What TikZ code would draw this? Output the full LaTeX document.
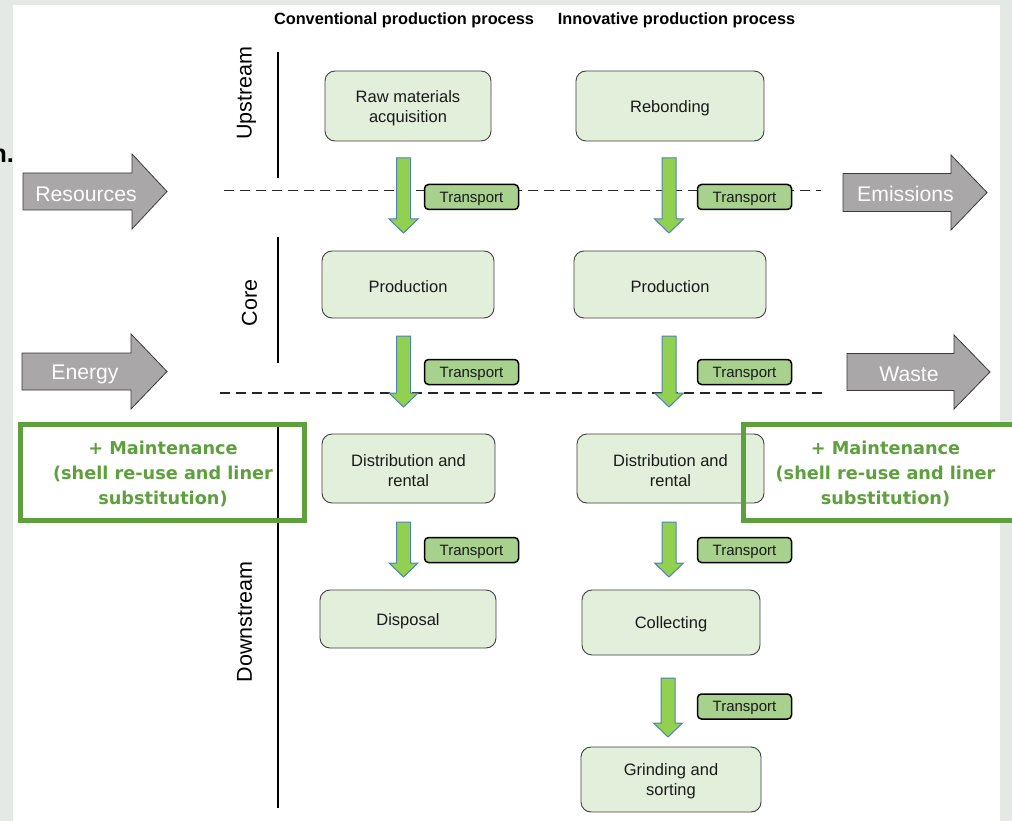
\documentclass[tikz,border=0pt]{standalone}
\usepackage{fontspec}
\setmainfont{Liberation Sans}
\newfontfamily\mfont{DejaVu Sans}
\definecolor{bggray}{HTML}{E4E9E6}
\definecolor{boxfill}{HTML}{E2EFDA}
\definecolor{boxdraw}{HTML}{404040}
\definecolor{tfill}{HTML}{A9D18E}
\definecolor{gafill}{HTML}{92D050}
\definecolor{gadraw}{HTML}{4F81BD}
\definecolor{grfill}{HTML}{A9A7A7}
\definecolor{grdraw}{HTML}{3A3A3A}
\definecolor{mgreen}{RGB}{94,160,62}
\definecolor{txt}{HTML}{1A1A1A}
\tikzset{
  stepbox/.style={draw=boxdraw, line width=0.9pt, fill=boxfill, rounded corners=10pt,
    inner sep=0pt},
  steptext/.style={align=center, text=txt, inner sep=0pt, font=\fontsize{16.5}{20}\selectfont},
  tbox/.style={draw=black, line width=1.5pt, fill=tfill, rounded corners=4pt,
    minimum width=94pt, minimum height=25pt, inner sep=0pt},
  ttext/.style={text=txt, inner sep=0pt, font=\fontsize{15}{18}\selectfont},
  garrow/.style={fill=gafill, draw=gadraw, line width=1pt},
  grarrow/.style={fill=grfill, draw=grdraw, line width=0.8pt},
  grtext/.style={text=white, font=\fontsize{21.2}{24}\selectfont, inner sep=0pt},
  sidelabel/.style={rotate=90, text=black, font=\fontsize{21.5}{24}\selectfont, inner sep=0pt},
  divline/.style={draw=black, line width=1.3pt},
  dashline/.style={draw=black!85, line width=1.3pt, dash pattern=on 10pt off 6pt},
  header/.style={font=\bfseries\fontsize{16.3}{19}\selectfont, text=black, inner sep=0pt},
  mbox/.style={draw=mgreen, line width=5pt},
  mtext/.style={text=mgreen, align=center, inner sep=0pt,
    font=\mfont\bfseries\fontsize{17.7}{25}\selectfont},
}
\newcommand{\stepnode}[6]{% name, x, y, w, h, text
  \node[stepbox, minimum width=#4pt, minimum height=#5pt] (#1) at (#2,#3) {};
  \node[steptext] (#1-t) at ([yshift=-1.8pt]#1.center) {#6};}
\newcommand{\tnode}[3]{% name, x, y
  \node[tbox] (#1) at (#2,#3) {};
  \node[ttext] (#1-t) at ([yshift=-1.8pt]#1.center) {Transport};}
\newcommand{\gdown}[4]{% x, ytop, ybase, ytip
  \draw[garrow] (#1-7,#2) -- (#1+7,#2) -- (#1+7,#3) -- (#1+14.5,#3) -- (#1,#4)
    -- (#1-14.5,#3) -- (#1-7,#3) -- cycle;}
\newcommand{\gright}[6]{% xl, xh, xt, ymid, shaft half, head half
  \draw[grarrow] (#1,#4-#5) -- (#2,#4-#5) -- (#2,#4-#6) -- (#3,#4) -- (#2,#4+#6)
    -- (#2,#4+#5) -- (#1,#4+#5) -- cycle;}
\begin{document}
\begin{tikzpicture}[x=1pt,y=-1pt]
\useasboundingbox (0,0) rectangle (1012,821);
\fill[bggray] (0,0) rectangle (1012,821);
\fill[white] (13,5) rectangle (1000,821);
\node[anchor=base east, font=\bfseries\fontsize{25}{28}\selectfont, inner sep=0pt] (frag) at (14,163) {n.};

% headers
\node[header] (hconv) at (404,20) {Conventional production process};
\node[header] (hinno) at (676.5,20) {Innovative production process};

% side labels and lines
\node[sidelabel] (up) at (246.5,93) {Upstream};
\node[sidelabel] (core) at (249.5,303) {Core};
\node[sidelabel] (down) at (244.5,622) {Downstream};
\coordinate (u1) at (278,52); \coordinate (u2) at (278,178);
\coordinate (c1) at (278,237); \coordinate (c2) at (278,363);
\coordinate (d1) at (278,425); \coordinate (d2) at (278,808);

% dashed lines
\coordinate (da1) at (224,190.5); \coordinate (da2) at (821,190.5);
\coordinate (db1) at (220,393); \coordinate (db2) at (825,393);
\draw[dashline] (da1) -- (da2);
\draw[dashline] (db1) -- (db2);

% maintenance box fills
\fill[white] (20.5,424.5) rectangle (304.5,520.5);
\fill[white] (743.5,424.5) rectangle (1016,520.5);

% gray arrows
\gright{23}{132}{167}{191.5}{18.5}{37.5}
\node[grtext] (res) at (86,194) {Resources};
\gright{22}{131}{167}{371.5}{18.5}{37.5}
\node[grtext] (ene) at (85,374) {Energy};
\gright{843}{951}{987}{192.5}{19}{37.5}
\node[grtext] (emi) at (905.5,194) {Emissions};
\gright{847}{954}{990}{372}{18.5}{37}
\node[grtext] (was) at (909,374) {Waste};

% process boxes
\stepnode{raw}{408}{106}{166}{70}{Raw materials\\acquisition}
\stepnode{reb}{670}{106}{188}{70}{Rebonding}
\stepnode{prodL}{408}{284.5}{172}{67}{Production}
\stepnode{prodR}{670}{284.5}{192}{67}{Production}
\stepnode{distL}{408.5}{468.5}{173}{69}{Distribution and\\rental}
\stepnode{distR}{670.5}{468.5}{187}{69}{Distribution and\\rental}
\stepnode{disp}{408}{619}{176}{58}{Disposal}
\stepnode{coll}{671}{622.5}{178}{65}{Collecting}
\stepnode{grind}{671}{779.5}{180}{65}{Grinding and\\sorting}

% green arrows
\gdown{403.5}{158}{219}{233}
\gdown{669}{158}{219}{233}
\gdown{403.5}{336}{393}{407}
\gdown{669}{336}{393}{407}
\gdown{403.5}{522}{563}{577}
\gdown{669}{522}{563}{577}
\gdown{668}{678}{723}{737}

% transport labels
\tnode{t1L}{471.5}{197}
\tnode{t1R}{744.5}{197}
\tnode{t2L}{471.5}{372}
\tnode{t2R}{744.5}{372}
\tnode{t3L}{471.5}{550}
\tnode{t3R}{744.5}{550}
\tnode{t4R}{744.5}{706.5}

% vertical lines
\draw[divline] (u1) -- (u2);
\draw[divline] (c1) -- (c2);
\draw[divline] (d1) -- (d2);

% maintenance boxes
\draw[mbox] (20.5,424.5) rectangle (304.5,520.5);
\draw[mbox] (743.5,424.5) rectangle (1016,520.5);
\node[mtext] (mL) at (163,474) {+ Maintenance\\(shell re-use and liner\\substitution)};
\node[mtext] (mR) at (885.5,474) {+ Maintenance\\(shell re-use and liner\\substitution)};
\end{tikzpicture}
\end{document}
